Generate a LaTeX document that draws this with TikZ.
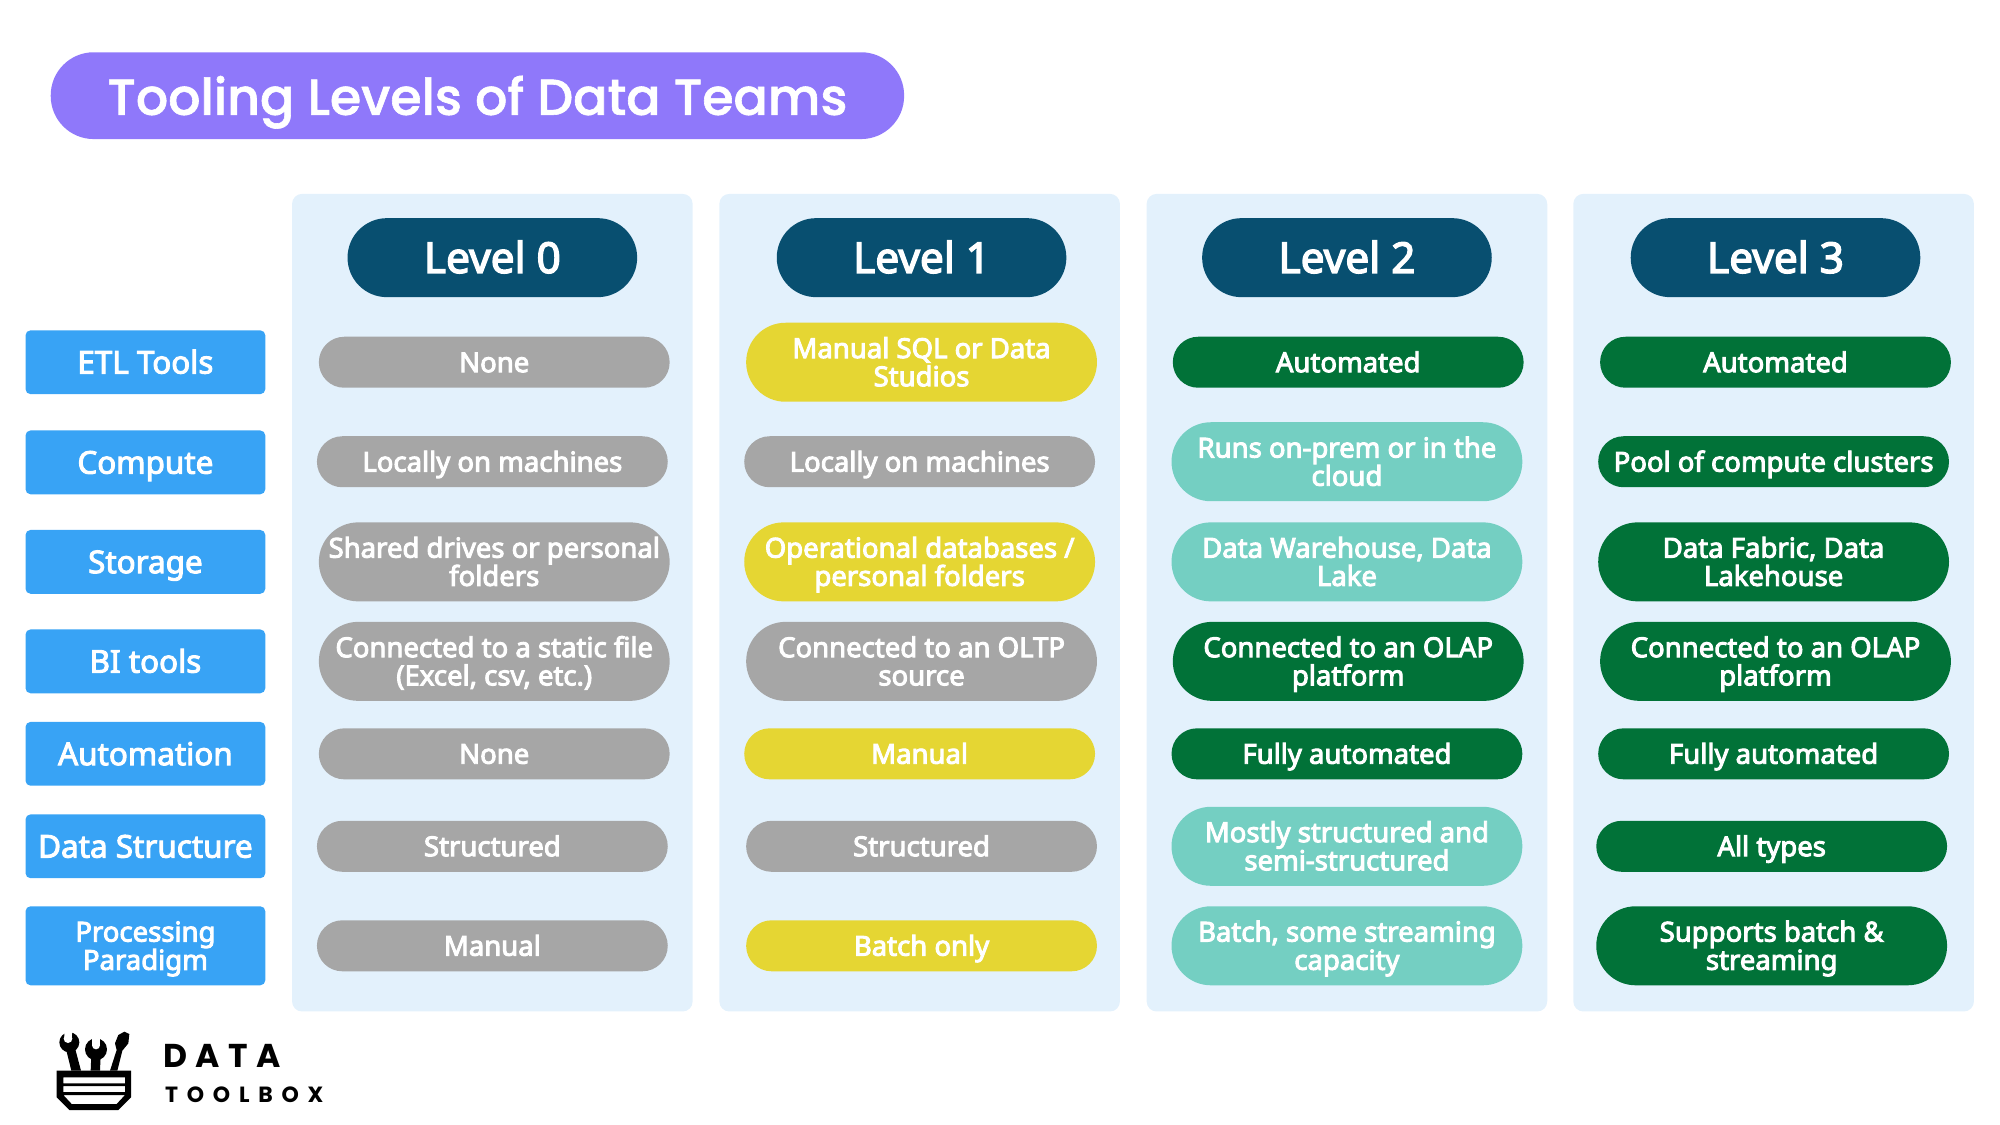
\documentclass[tikz,border=0pt]{standalone}
\usepackage{fontspec}
\setmainfont{Noto Sans}
\newfontfamily\titlefont{Poppins Medium}
\newfontfamily\logofont[LetterSpace=26]{Poppins}
\newfontfamily\logofontb[LetterSpace=40]{Poppins}
\definecolor{cpurple}{HTML}{8F78FA}
\definecolor{cblue}{HTML}{38A3F5}
\definecolor{cpanel}{HTML}{E3F1FC}
\definecolor{cnavy}{HTML}{084F70}
\definecolor{cgrey}{HTML}{A6A6A6}
\definecolor{cyel}{HTML}{E5D633}
\definecolor{cteal}{HTML}{74CFC2}
\definecolor{cgreen}{HTML}{017238}
\newcommand{\heavyon}[1]{\special{pdf:code 2 Tr #1 w}}
\newcommand{\heavyoff}{\special{pdf:code 0 Tr}}
\newcommand{\fl}{\rule{0pt}{.96em}}
\tikzset{
 pilltext/.style={text=white,align=center,inner sep=0pt,font=\fontsize{13.75}{14.1}\selectfont,
   execute at begin node={\heavyon{0.48}\rule{0pt}{.96em}},execute at end node={\rule[-.24em]{0pt}{.24em}\heavyoff}},
 panelbox/.style={fill=cpanel,rounded corners=5pt,minimum width=200.3pt,minimum height=408.8pt,inner sep=0pt},
 onepill/.style={pilltext,minimum width=175.4pt,minimum height=25.5pt,rounded corners=12.7pt},
 twopill/.style={pilltext,minimum width=175.4pt,minimum height=39.5pt,rounded corners=19.7pt},
 sidebox/.style={pilltext,fill=cblue,minimum width=119.9pt,minimum height=31.9pt,rounded corners=2.5pt,font=\fontsize{15.7}{14.1}\selectfont},
 sideboxtall/.style={sidebox,minimum height=39.5pt,font=\fontsize{13.75}{14.1}\selectfont},
 levelbox/.style={pilltext,fill=cnavy,minimum width=144.8pt,minimum height=39.5pt,rounded corners=19.7pt,font=\fontsize{21.2}{22}\selectfont,
   execute at begin node={\heavyon{0.7}\rule{0pt}{.96em}}},
 titlebox/.style={fill=cpurple,minimum width=426.7pt,minimum height=43.4pt,rounded corners=21.5pt,text=white,inner sep=0pt,font=\fontsize{25.3}{30}\selectfont\titlefont,
   execute at begin node={\heavyon{0.3}\rule{0pt}{1.03em}\rule[-.25em]{0pt}{.25em}},execute at end node={\heavyoff}},
 gp/.style={fill=cgrey},yp/.style={fill=cyel},tp/.style={fill=cteal},np/.style={fill=cgreen}
}
\begin{document}
\begin{tikzpicture}[x=0.63776pt,y=-0.63776pt]
\useasboundingbox (0,0) rectangle (1568,882);
\node[titlebox] (title) at (374.3,75) {Tooling Levels of Data Teams};
\foreach \n/\x in {p0/386,p1/721,p2/1056,p3/1390.5}
  \node[panelbox] (\n) at (\x,472.5) {};
\node[levelbox] (l0) at (386,202) {Level 0};
\node[levelbox] (l1) at (722.5,202) {Level 1};
\node[levelbox] (l2) at (1056,202) {Level 2};
\node[levelbox] (l3) at (1392,202) {Level 3};
\node[sidebox] (s1) at (114,284) {ETL Tools};
\node[sidebox] (s2) at (114,362.5) {Compute};
\node[sidebox] (s3) at (114,440.5) {Storage};
\node[sidebox] (s4) at (114,518.5) {BI tools};
\node[sidebox] (s5) at (114,591) {Automation};
\node[sidebox] (s6) at (114,663.5) {Data Structure};
\node[sideboxtall] (s7) at (114,741.5) {\fl Processing\\Paradigm};
% Level 0
\node[onepill,gp] (a1) at (387.5,284) {None};
\node[onepill,gp] (a2) at (386,362) {Locally on machines};
\node[twopill,gp] (a3) at (387.5,440.5) {\fl Shared drives or personal\\folders};
\node[twopill,gp] (a4) at (387.5,518.5) {\fl Connected to a static file\\(Excel, csv, etc.)};
\node[onepill,gp] (a5) at (387.5,591) {None};
\node[onepill,gp] (a6) at (386,663.5) {Structured};
\node[onepill,gp] (a7) at (386,741.5) {Manual};
% Level 1
\node[twopill,yp] (b1) at (722.5,284) {\fl Manual SQL or Data\\Studios};
\node[onepill,gp] (b2) at (721,362) {Locally on machines};
\node[twopill,yp] (b3) at (721,440.5) {\fl Operational databases /\\personal folders};
\node[twopill,gp] (b4) at (722.5,518.5) {\fl Connected to an OLTP\\source};
\node[onepill,yp] (b5) at (721,591) {Manual};
\node[onepill,gp] (b6) at (722.5,663.5) {Structured};
\node[onepill,yp] (b7) at (722.5,741.5) {Batch only};
% Level 2
\node[onepill,np] (c1) at (1057,284) {Automated};
\node[twopill,tp] (c2) at (1056,362) {\fl Runs on-prem or in the\\cloud};
\node[twopill,tp] (c3) at (1056,440.5) {\fl Data Warehouse, Data\\Lake};
\node[twopill,np] (c4) at (1057,518.5) {\fl Connected to an OLAP\\platform};
\node[onepill,np] (c5) at (1056,591) {Fully automated};
\node[twopill,tp] (c6) at (1056,663.5) {\fl Mostly structured and\\semi-structured};
\node[twopill,tp] (c7) at (1056,741.5) {\fl Batch, some streaming\\capacity};
% Level 3
\node[onepill,np] (d1) at (1392,284) {Automated};
\node[onepill,np] (d2) at (1390.5,362) {Pool of compute clusters};
\node[twopill,np] (d3) at (1390.5,440.5) {\fl Data Fabric, Data\\Lakehouse};
\node[twopill,np] (d4) at (1392,518.5) {\fl Connected to an OLAP\\platform};
\node[onepill,np] (d5) at (1390.5,591) {Fully automated};
\node[onepill,np] (d6) at (1389,663.5) {All types};
\node[twopill,np] (d7) at (1389,741.5) {\fl Supports batch \&\\streaming};
% Logo
\begin{scope}[x=0.16667pt,y=-0.16667pt,yshift=-490pt]
 \fill[even odd rule,black]
  (170,272)--(393,272)--(393,352)--(355,390)--(208,390)--(170,352)--cycle
  (190,292)--(375,292)--(375,310)--(190,310)--cycle
  (190,318)--(375,318)--(375,336)--(190,336)--cycle
  (190,345)--(375,345)--(350,372)--(215,372)--cycle;
 % wrench 1
 \fill[black] (214,272)--(200,215)--(226,208)--(243,272)--cycle;
 \fill[black] (208,187) circle[radius=30];
 \fill[white] (204,176) circle[radius=13];
 \fill[white] (193,150)--(217,150)--(215,176)--(193,176)--cycle;
 % wrench 2
 \fill[black] (272,272)--(274,225)--(302,225)--(300,272)--cycle;
 \fill[black] (288,208) circle[radius=33];
 \fill[white] (288,196) circle[radius=12];
 \fill[white] (277,170)--(299,170)--(299,196)--(277,196)--cycle;
 % screwdriver
 \fill[black] (330,272)--(350,210)--(345,190)--(355,165)--(373,155)--(388,162)--(385,190)--(367,212)--(352,272)--cycle;
 \node[anchor=base west,inner sep=0pt,font=\fontsize{16.5}{18}\selectfont\logofont\bfseries] (logoa) at (489,262) {DATA};
 \node[anchor=base west,inner sep=0pt,font=\fontsize{11}{12}\selectfont\logofontb\bfseries] (logob) at (494,367) {TOOLBOX};
\end{scope}
\end{tikzpicture}
\end{document}
